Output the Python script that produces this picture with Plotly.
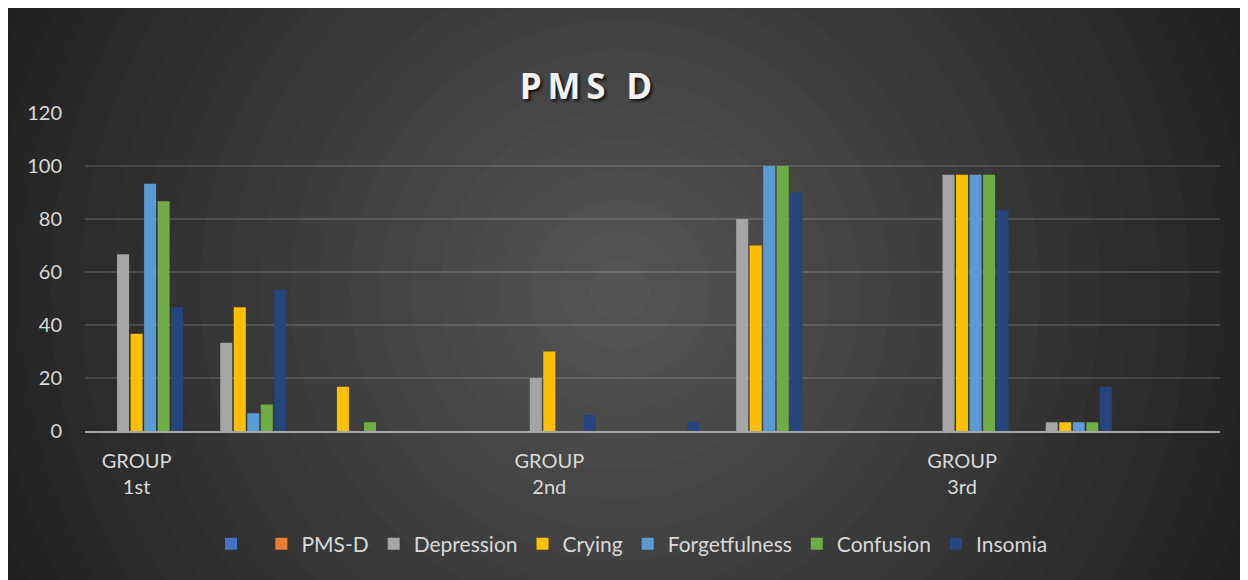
import plotly.graph_objects as go

# ---- data ----
slots = list(range(11))
tick_positions = [0, 4, 8]
tick_labels = ["GROUP<br>1st", "GROUP<br>2nd", "GROUP<br>3rd"]

series_names = [" ", "PMS-D", "Depression", "Crying", "Forgetfulness", "Confusion", "Insomia"]
blank = [0, 0, 0, 0, 0, 0, 0, 0, 0, 0, 0]
pms_d = [0, 0, 0, 0, 0, 0, 0, 0, 0, 0, 0]
depression = [66.7, 33.3, 0, 0, 20, 0, 80, 0, 96.7, 3.3, 0]
crying = [36.7, 46.7, 16.7, 0, 30, 0, 70, 0, 96.7, 3.3, 0]
forgetfulness = [93.3, 6.7, 0, 0, 0, 0, 100, 0, 96.7, 3.3, 0]
confusion = [86.7, 10, 3.3, 0, 0, 0, 100, 0, 96.7, 3.3, 0]
insomia = [46.7, 53.3, 0, 0, 6, 3.3, 90, 0, 83.3, 16.7, 0]
y_ticks = [0, 20, 40, 60, 80, 100, 120]
title_text = "PMS D"

series_values = [blank, pms_d, depression, crying, forgetfulness, confusion, insomia]
colors = ["#4472c4", "#ed7d31", "#a5a5a5", "#fcc000", "#5b9bd5", "#6fac45", "#26457c"]

W, H = 1248, 580
OFF = 8  # page body margin offset
# plot area in screenshot pixels: x 85..1220, y 113..431
ML = 85 - OFF
MT = 113 - OFF
MR = W - (1220 - OFF)
MB = H - (431 - OFF)
PW, PH = W - ML - MR, H - MT - MB

def px_x(px):
    return (px - OFF - ML) / PW

def px_y(py):
    return (H - MB - (py - OFF)) / PH

fig = go.Figure()
for name, vals, col in zip(series_names, series_values, colors):
    fig.add_trace(go.Bar(x=slots, y=vals, name=name, marker=dict(color=col, line=dict(width=0))))

# radial background
shapes = []
cx, cy = 620, 290
rmax = 900
steps = 30
for i in range(steps, 0, -1):
    r = rmax * i / steps
    t = min(r / 680, 1.0)
    v = int(round(0x57 - (0x57 - 0x21) * t))
    col = "#%02x%02x%02x" % (v, v, v)
    shapes.append(dict(type="circle", xref="paper", yref="paper", layer="below",
                       x0=px_x(cx - r), x1=px_x(cx + r), y0=px_y(cy + r), y1=px_y(cy - r),
                       fillcolor=col, line=dict(width=0)))

font_family = "Lato, 'Open Sans', sans-serif"
spaced_title = "\u2009".join(title_text)

fig.update_layout(
    width=W, height=H, autosize=False,
    margin=dict(l=ML, r=MR, t=MT, b=MB, pad=0),
    paper_bgcolor="#2a2a2a",
    plot_bgcolor="rgba(0,0,0,0)",
    shapes=shapes,
    barmode="group",
    bargap=0.083,
    bargroupgap=0.11,
    font=dict(family=font_family, color="#d9d9d9", size=20),
    title=dict(text="<b>" + spaced_title + "</b>", x=(586 - OFF) / W, xanchor="center",
               y=1 - (87 - OFF) / H, yanchor="middle",
               font=dict(family="'Open Sans', sans-serif", size=35, color="#f2f2f2",
                         shadow="2px 2px 3px rgba(0,0,0,0.8)")),
    xaxis=dict(range=[-0.5, 10.5], tickmode="array", tickvals=tick_positions,
               ticktext=tick_labels, showgrid=False, zeroline=False,
               showline=True, linecolor="#a6a6a6", linewidth=2, ticks="",
               ticklabelstandoff=11, tickfont=dict(size=20, color="#d9d9d9")),
    yaxis=dict(range=[0, 120], tickmode="array", tickvals=y_ticks,
               showgrid=True, gridcolor="rgba(255,255,255,0.13)", gridwidth=1.5,
               zeroline=False, showline=False, ticks="", ticklabelstandoff=22,
               tickfont=dict(size=20, color="#d9d9d9")),
    legend=dict(orientation="h", x=px_x(632), xanchor="center", y=px_y(544), yanchor="middle",
                font=dict(size=21, color="#d9d9d9"), bgcolor="rgba(0,0,0,0)",
                itemclick=False),
    showlegend=True,
)

fig.write_html("out.html")
